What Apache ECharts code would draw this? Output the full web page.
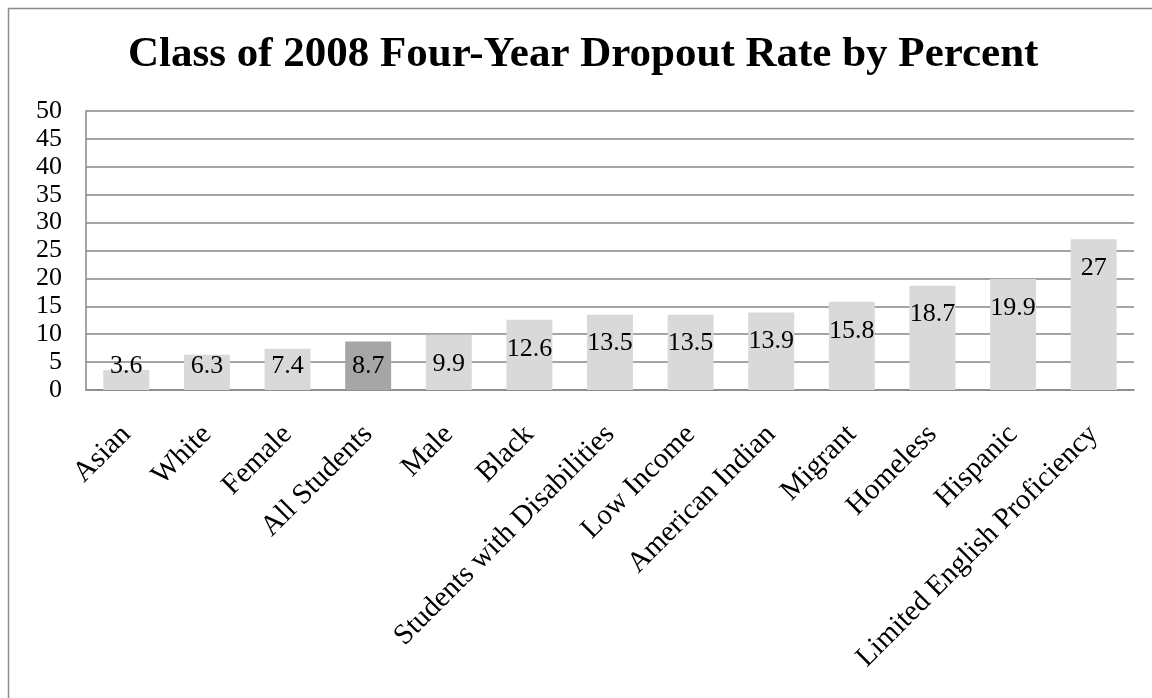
<!DOCTYPE html>
<html>
<head>
<meta charset="utf-8">
<script src="https://cdn.jsdelivr.net/npm/echarts@6/dist/echarts.min.js"></script>
<style>html,body{margin:0;padding:0;background:#fff;}#c{width:1152px;height:698px;}</style>
</head>
<body>
<div id="c"></div>
<script>
const titleText = 'Class of 2008 Four-Year Dropout Rate by Percent';
const categories = ['Asian','White','Female','All Students','Male','Black','Students with Disabilities','Low Income','American Indian','Migrant','Homeless','Hispanic','Limited English Proficiency'];
const values = [3.6, 6.3, 7.4, 8.7, 9.9, 12.6, 13.5, 13.5, 13.9, 15.8, 18.7, 19.9, 27];
const highlightCategory = 'All Students';
const yTicks = [0, 5, 10, 15, 20, 25, 30, 35, 40, 45, 50];

const FONT = '"Liberation Serif", "Times New Roman", serif';
const gridTop = 111, gridBottom = 308;
const plotH = 698 - gridTop - gridBottom;
const yMax = yTicks[yTicks.length - 1];

const seriesData = values.map((v, i) => {
  const h = v / yMax * plotH;
  const item = {
    value: v,
    itemStyle: { color: categories[i] === highlightCategory ? '#a6a6a6' : '#d9d9d9' }
  };
  if (h < 53) {
    item.label = { position: 'insideBottom', distance: 11 };
  }
  return item;
});

const chart = echarts.init(document.getElementById('c'));
chart.setOption({
  animation: false,
  backgroundColor: '#ffffff',
  graphic: [{
    type: 'rect',
    shape: { x: 8.5, y: 8.5, width: 1200, height: 800 },
    style: { fill: 'none', stroke: '#8c8c8c', lineWidth: 1.5 },
    silent: true
  }],
  title: {
    text: titleText,
    left: 123,
    top: 28,
    textStyle: { fontFamily: FONT, fontWeight: 'bold', fontSize: 43, color: '#000' }
  },
  grid: { left: 86, right: 18, top: gridTop, bottom: gridBottom, containLabel: false },
  xAxis: {
    type: 'category',
    data: categories,
    axisLine: { show: true, lineStyle: { color: '#868686', width: 1.5 } },
    axisTick: { show: false },
    axisLabel: {
      interval: 0,
      rotate: 45,
      margin: 40,
      fontFamily: FONT,
      fontSize: 29,
      color: '#000'
    }
  },
  yAxis: {
    type: 'value',
    min: 0,
    max: yMax,
    interval: 5,
    axisLine: { show: true, lineStyle: { color: '#868686', width: 1.5 } },
    axisTick: { show: false },
    axisLabel: { margin: 24, fontFamily: FONT, fontSize: 26, color: '#000' },
    splitLine: { show: true, lineStyle: { color: '#868686', width: 1.5 } }
  },
  series: [{
    type: 'bar',
    data: seriesData,
    barWidth: '57%',
    label: {
      show: true,
      position: 'insideTop',
      distance: 16,
      fontFamily: FONT,
      fontSize: 26,
      color: '#000'
    }
  }]
});
</script>
</body>
</html>
